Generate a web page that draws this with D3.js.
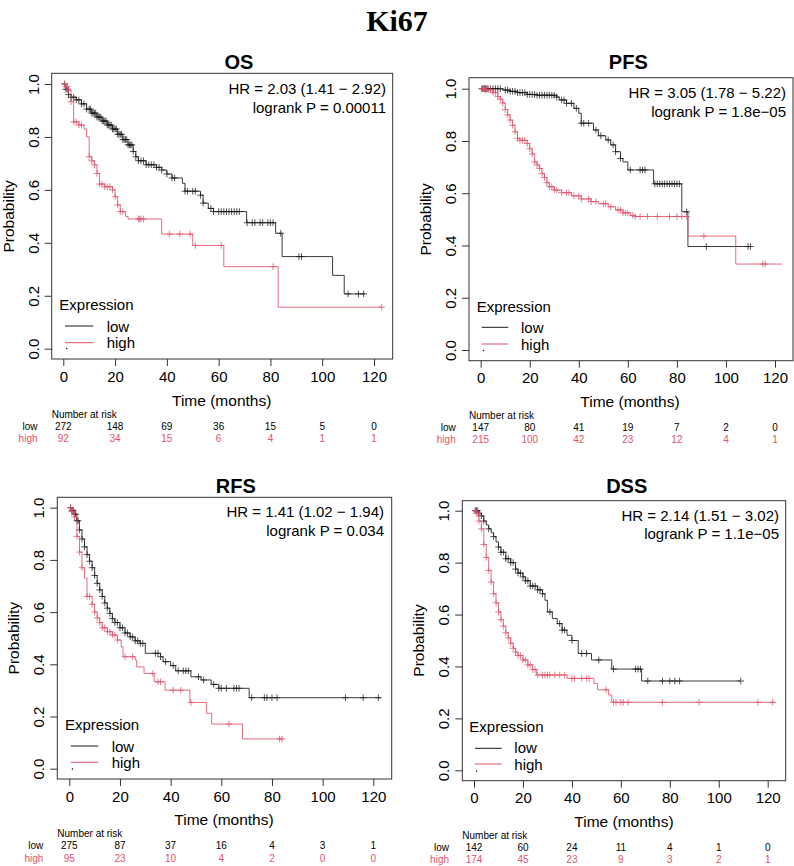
<!DOCTYPE html>
<html>
<head>
<meta charset="utf-8">
<script src="https://cdn.jsdelivr.net/npm/d3@7"></script>
<style>
  body { margin: 0; background: #fff; }
  svg { display: block; }
</style>
</head>
<body>
<div id="chart"></div>
<script>
// ---- data ----
const xTicks = [0, 20, 40, 60, 80, 100, 120]
const yTicks = [0, 0.2, 0.4, 0.6, 0.8, 1.0]
const groups = ['low', 'high']

// OS
const osLowSteps = [[0,1],[1,0.98],[2,0.96],[3,0.95],[5,0.94],[7,0.925],[9,0.905],[11,0.89],[13,0.875],[15,0.86],[17,0.845],[19,0.83],[21,0.81],[23,0.79],[25,0.77],[27,0.745],[28,0.725],[29,0.71],[32,0.695],[36,0.685],[38,0.675],[40,0.66],[42,0.645],[46,0.625],[47,0.595],[53,0.58],[54,0.55],[56,0.53],[58,0.518],[70.8,0.476],[82,0.436],[84.5,0.348],[104,0.277],[108.5,0.207],[116.5,0.207]]
const osLowCensor = [0.5,1,1.5,2,3,4,5,6,7,8,9,10,10.5,11,11.5,12,12.5,13,13.5,14,14.5,15,15.5,16,16.5,17,17.5,18,18.5,19,19.5,20,20.5,21,21.5,22,22.5,23,23.5,24,24.5,25,25.5,26,26.5,27,28,29,30,31,32,33,34,35,36,37,38,40,42,43,47,48,50,51,53,54,57,58,60,61,62,63,64,65,66,67,68,71,73,74,76,77,79,80,81,84,91,92,110,114,116]
const osHighSteps = [[0,1],[1,0.99],[2,0.977],[3,0.933],[4,0.857],[6,0.845],[8,0.83],[9,0.8],[10,0.725],[11,0.71],[12,0.694],[13,0.662],[14,0.622],[16,0.612],[19,0.6],[20,0.574],[21,0.543],[22,0.518],[24,0.5],[25,0.49],[38,0.433],[50,0.39],[62,0.31],[83,0.157],[123,0.157]]
const osHighCensor = [0.5,1,1.5,2,3,4,5,6,7,10,11,12,13,14,15,16,17,18,19,20,21,22,23,29,29.5,30,31,41,45,49,51,61,81,123]
const osRiskLow = [272, 148, 69, 36, 15, 5, 0]
const osRiskHigh = [92, 34, 15, 6, 4, 1, 1]

// PFS
const pfsLowSteps = [[0,1],[9,0.995],[12,0.99],[15,0.985],[19,0.978],[23,0.975],[31,0.968],[32,0.957],[35,0.944],[38,0.925],[40,0.906],[41,0.868],[46,0.842],[48,0.82],[51,0.804],[53,0.785],[55,0.759],[57,0.733],[58,0.72],[60,0.689],[70.5,0.636],[82,0.529],[84.5,0.396],[110.5,0.396]]
const pfsLowCensor = [0.5,1,1.5,2,2.5,3,4,5,6,7,8,10,11,12,13,14,15,16,17,18,19,20,21,22,23,24,25,26,27,28,29,30,31,33,34,35,37,39,41,42,44,47,49,52,54,55,57,61,65,66,67,71,72,73,74,75,76,77,78,79,80,81,84,92,109,110]
const pfsHighSteps = [[0,1],[2,0.995],[5,0.985],[7,0.97],[8,0.96],[9,0.945],[10,0.92],[11,0.9],[12,0.88],[13,0.86],[14,0.835],[15,0.81],[16,0.802],[19,0.79],[20,0.77],[21,0.75],[22,0.72],[23,0.708],[24,0.695],[25,0.675],[26,0.66],[27,0.64],[28,0.625],[30,0.612],[33,0.602],[37,0.59],[41,0.578],[45,0.568],[48,0.56],[52,0.548],[55,0.536],[58,0.525],[61,0.515],[63,0.511],[84.5,0.436],[104,0.329],[123,0.329]]
const pfsHighCensor = [0.5,1,1.5,2,3,4,5,6,7,8,9,10,11,12,13,14,15,16,17,18,19,20,21,22,23,24,25,26,27,28,29,30,31,33,35,36,38,40,41,44,45,47,50,51,53,56,57,58,59,60,62,63,65,68,72,77,80,82,84,91,115,116]
const pfsRiskLow = [147, 80, 41, 19, 7, 2, 0]
const pfsRiskHigh = [215, 100, 42, 23, 12, 4, 1]

// RFS
const rfsLowSteps = [[0,1],[1,0.99],[2,0.975],[3,0.95],[4,0.915],[5,0.88],[6,0.85],[7,0.82],[8,0.795],[9,0.77],[10,0.74],[11,0.71],[12,0.685],[13,0.66],[14,0.635],[15,0.615],[16,0.595],[17,0.575],[18,0.56],[20,0.54],[22,0.52],[24,0.505],[26,0.49],[28,0.48],[30,0.442],[36,0.429],[37,0.41],[40,0.395],[42,0.375],[48,0.352],[52,0.34],[56,0.323],[59,0.308],[71,0.272],[123,0.272]]
const rfsLowCensor = [0.5,1,1.5,2,2.5,3,3.5,4,5,6,7,8,9,10,11,12,13,14,15,16,17,18,19,20,21,22,23,24,25,26,27,28,29,34,35,36,38,41,43,45,46,47,51,53,57,59,60,62,65,66,67,72,77,78,80,82,109,116,122]
const rfsHighSteps = [[0,1],[1,0.985],[2,0.965],[3,0.89],[4,0.83],[5,0.77],[6,0.73],[7,0.66],[9,0.63],[10,0.6],[11,0.578],[12,0.56],[13,0.54],[15,0.525],[17,0.512],[19,0.493],[20.5,0.467],[21.2,0.429],[26,0.416],[26.6,0.39],[29.5,0.365],[33.5,0.333],[37.8,0.301],[47.6,0.254],[54.2,0.212],[56.2,0.171],[68.4,0.114],[84.5,0.114]]
const rfsHighCensor = [0.5,1,1.5,2,3,4,5,7,8,9,10,11,12,13,14,15,16,17,18,19,22,25,33,35,36,41,44,48,63,83,84]
const rfsRiskLow = [275, 87, 37, 16, 4, 3, 1]
const rfsRiskHigh = [95, 23, 10, 4, 2, 0, 0]

// DSS
const dssLowSteps = [[0,1],[2,0.99],[3,0.98],[4,0.96],[5,0.945],[6,0.93],[7,0.915],[8,0.9],[9,0.88],[10,0.86],[11,0.84],[13,0.815],[15,0.8],[17,0.775],[18,0.76],[20,0.745],[21,0.73],[23,0.71],[26,0.695],[28,0.68],[29,0.655],[30,0.61],[32,0.585],[34,0.565],[36,0.54],[38,0.52],[40,0.5],[42.6,0.45],[48,0.425],[56.3,0.39],[68.5,0.344],[108.7,0.344]]
const dssLowCensor = [0.5,1,1.5,2,3,4,6,8,10,11,12,13,14,15,16,17,18,19,20,21,22,23,24,25,26,27,28,31,35,36,37,40,44,46,51,57,66,67,68,71,77,80,82,84,109]
const dssHighSteps = [[0,1],[1,0.99],[2,0.96],[3,0.93],[4,0.87],[5,0.82],[6,0.77],[7,0.725],[8,0.68],[9,0.645],[10,0.61],[11,0.58],[12,0.555],[13,0.53],[14,0.51],[15,0.49],[16,0.47],[17,0.455],[18,0.442],[20,0.425],[22,0.406],[24,0.388],[25.6,0.367],[38,0.354],[49,0.335],[50.5,0.31],[55,0.29],[56.3,0.262],[123,0.262]]
const dssHighCensor = [0.5,1,1.5,2,3,4,5,6,7,8,9,10,11,12,13,14,15,16,17,18,19,20,21,22,23,24,25,26,28,29,30,31,33,35,37,40,41,44,46,47,54,57,58,60,61,63,77,92,116,122]
const dssRiskLow = [142, 60, 24, 11, 4, 1, 0]
const dssRiskHigh = [174, 45, 23, 9, 3, 2, 1]

// ---- layout (measured per panel) ----
const COLORS = { low: '#1a1a1a', high: '#DF536B' }
const FONT = "'Liberation Sans', Arial, sans-serif"

const panels = [
  {
    title: 'OS', hr: 'HR = 2.03 (1.41 − 2.92)', p: 'logrank P = 0.00011',
    series: { low: [osLowSteps, osLowCensor], high: [osHighSteps, osHighCensor] },
    risk: { low: osRiskLow, high: osRiskHigh },
    box: [51.7, 73.3, 392.7, 359], xr: [63.3, 374], yr: [348.7, 84],
    titlePos: [239, 69.3], hrPos: [386, 94.3],
    leg: { x: 59.3, y: 310, lx: [65, 93.3], ly: [326, 342.7], tx: 106.7, ty: [331.7, 347.5] },
    xtickY: 381.7, xlab: [221.7, 405.7], riskY: 417.7, riskLabX: 37.5
  },
  {
    title: 'PFS', hr: 'HR = 3.05 (1.78 − 5.22)', p: 'logrank P = 1.8e−05',
    series: { low: [pfsLowSteps, pfsLowCensor], high: [pfsHighSteps, pfsHighCensor] },
    risk: { low: pfsRiskLow, high: pfsRiskHigh },
    box: [469, 77.7, 793, 360.7], xr: [480.7, 775], yr: [350, 88.7],
    titlePos: [628.3, 68.7], hrPos: [786, 98.3],
    leg: { x: 476.7, y: 311.7, lx: [481.7, 508.3], ly: [327.3, 344], tx: 521, ty: [333.3, 349.5] },
    xtickY: 383.3, xlab: [630, 406.7], riskY: 418.5, riskLabX: 455.7
  },
  {
    title: 'RFS', hr: 'HR = 1.41 (1.02 − 1.94)', p: 'logrank P = 0.034',
    series: { low: [rfsLowSteps, rfsLowCensor], high: [rfsHighSteps, rfsHighCensor] },
    risk: { low: rfsRiskLow, high: rfsRiskHigh },
    box: [57.3, 497.3, 391.7, 779], xr: [69.3, 373.3], yr: [768.7, 507.7],
    titlePos: [235.8, 492.7], hrPos: [384, 517.3],
    leg: { x: 65, y: 730, lx: [70.7, 98.3], ly: [746, 762.3], tx: 111.7, ty: [751.7, 768] },
    xtickY: 801.7, xlab: [224, 825], riskY: 837.3, riskLabX: 43.3
  },
  {
    title: 'DSS', hr: 'HR = 2.14 (1.51 − 3.02)', p: 'logrank P = 1.1e−05',
    series: { low: [dssLowSteps, dssLowCensor], high: [dssHighSteps, dssHighCensor] },
    risk: { low: dssRiskLow, high: dssRiskHigh },
    box: [462.3, 500.7, 785.7, 780.7], xr: [474, 767.7], yr: [770.3, 510.7],
    titlePos: [626.7, 493.3], hrPos: [779, 521],
    leg: { x: 469.3, y: 732.3, lx: [475, 501.7], ly: [748.3, 764], tx: 514.3, ty: [753.3, 770] },
    xtickY: 803.3, xlab: [624, 826.7], riskY: 838.7, riskLabX: 449
  }
]

const svg = d3.select('#chart')
  .append('svg')
  .attr('width', 794)
  .attr('height', 866)
  .style('font-family', FONT)

svg.append('rect').attr('width', 794).attr('height', 866).attr('fill', '#fff')

svg.append('text')
  .attr('x', 397)
  .attr('y', 31)
  .attr('text-anchor', 'middle')
  .attr('font-family', "'Liberation Serif', 'Times New Roman', serif")
  .attr('font-weight', 'bold')
  .attr('font-size', 30)
  .text('Ki67')

function survAt(steps, t) {
  const i = d3.bisector((d) => d[0]).right(steps, t) - 1
  return steps[Math.max(0, i)][1]
}

panels.forEach((pn) => {
  const [bl, bt, br, bb] = pn.box
  const x = d3.scaleLinear().domain([0, 120]).range(pn.xr)
  const y = d3.scaleLinear().domain([0, 1]).range(pn.yr)
  const g = svg.append('g')

  // Curves
  groups.forEach((grp) => {
    const [steps, censor] = pn.series[grp]
    const line = d3.line().curve(d3.curveStepAfter).x((d) => x(d[0])).y((d) => y(d[1]))
    g.append('path')
      .attr('d', line(steps))
      .attr('fill', 'none')
      .attr('stroke', COLORS[grp])
      .attr('stroke-width', 1)
      .attr('opacity', 0.85)

    const m = 3.3
    g.append('g')
      .selectAll('path')
      .data(censor)
      .join('path')
      .attr('d', (c) => {
        const cx = x(c), cy = y(survAt(steps, c))
        return `M${cx - m},${cy}H${cx + m}M${cx},${cy - m}V${cy + m}`
      })
      .attr('stroke', COLORS[grp])
      .attr('stroke-width', 1)
      .attr('opacity', 0.75)
  })

  // Box
  g.append('rect')
    .attr('x', bl).attr('y', bt)
    .attr('width', br - bl).attr('height', bb - bt)
    .attr('fill', 'none')
    .attr('stroke', '#333')
    .attr('stroke-width', 1)

  // X axis
  const xAxis = d3.axisBottom(x).tickValues(xTicks).tickSize(7).tickFormat(d3.format('d'))
  const xg = g.append('g').attr('transform', `translate(0,${bb})`).call(xAxis)
  xg.select('.domain').remove()
  xg.selectAll('line').attr('stroke', '#333')
  xg.selectAll('text')
    .attr('y', pn.xtickY - bb)
    .attr('dy', null)
    .attr('font-size', 15)
    .attr('font-family', FONT)
    .attr('fill', '#000')

  // Y axis
  const yAxis = d3.axisLeft(y).tickValues(yTicks).tickSize(7).tickFormat(d3.format('.1f'))
  const yg = g.append('g').attr('transform', `translate(${bl},0)`).call(yAxis)
  yg.select('.domain').remove()
  yg.selectAll('line').attr('stroke', '#333')
  yg.selectAll('text')
    .attr('x', null).attr('dy', null)
    .attr('transform', 'translate(-13,0) rotate(-90)')
    .attr('text-anchor', 'middle')
    .attr('font-size', 15)
    .attr('font-family', FONT)
    .attr('fill', '#000')

  // Axis titles
  g.append('text')
    .attr('x', pn.xlab[0]).attr('y', pn.xlab[1])
    .attr('text-anchor', 'middle')
    .attr('font-size', 15.5)
    .text('Time (months)')
  g.append('text')
    .attr('transform', `translate(${bl - 38},${(y(0) + y(1)) / 2}) rotate(-90)`)
    .attr('text-anchor', 'middle')
    .attr('font-size', 15.5)
    .text('Probability')

  // Panel title
  g.append('text')
    .attr('x', pn.titlePos[0]).attr('y', pn.titlePos[1])
    .attr('text-anchor', 'middle')
    .attr('font-weight', 'bold')
    .attr('font-size', 20)
    .text(pn.title)

  // HR / logrank
  g.append('text')
    .attr('x', pn.hrPos[0]).attr('y', pn.hrPos[1])
    .attr('text-anchor', 'end')
    .attr('font-size', 15)
    .text(pn.hr)
  g.append('text')
    .attr('x', pn.hrPos[0]).attr('y', pn.hrPos[1] + 18.4)
    .attr('text-anchor', 'end')
    .attr('font-size', 15)
    .text(pn.p)

  // Legend
  const lg = pn.leg
  g.append('text').attr('x', lg.x).attr('y', lg.y).attr('font-size', 15).text('Expression')
  groups.forEach((grp, i) => {
    g.append('line')
      .attr('x1', lg.lx[0]).attr('x2', lg.lx[1])
      .attr('y1', lg.ly[i]).attr('y2', lg.ly[i])
      .attr('stroke', COLORS[grp])
      .attr('stroke-width', 1)
    g.append('text').attr('x', lg.tx).attr('y', lg.ty[i]).attr('font-size', 15).text(grp)
  })
  g.append('circle')
    .attr('cx', lg.lx[0] + 1.7).attr('cy', lg.ty[1] + 1)
    .attr('r', 0.7).attr('fill', '#000')

  // Number at risk table
  g.append('text')
    .attr('x', bl).attr('y', pn.riskY)
    .attr('font-size', 10)
    .text('Number at risk')
  groups.forEach((grp, i) => {
    const ry = pn.riskY + 12 + i * 12.2
    g.append('text')
      .attr('x', pn.riskLabX).attr('y', ry)
      .attr('text-anchor', 'end')
      .attr('font-size', 10)
      .attr('fill', grp === 'low' ? '#000' : COLORS.high)
      .text(grp)
    g.append('g')
      .selectAll('text')
      .data(pn.risk[grp])
      .join('text')
      .attr('x', (d, j) => x(xTicks[j]))
      .attr('y', ry)
      .attr('text-anchor', 'middle')
      .attr('font-size', 10)
      .attr('fill', grp === 'low' ? '#000' : COLORS.high)
      .text((d) => d)
  })
})
</script>
</body>
</html>
